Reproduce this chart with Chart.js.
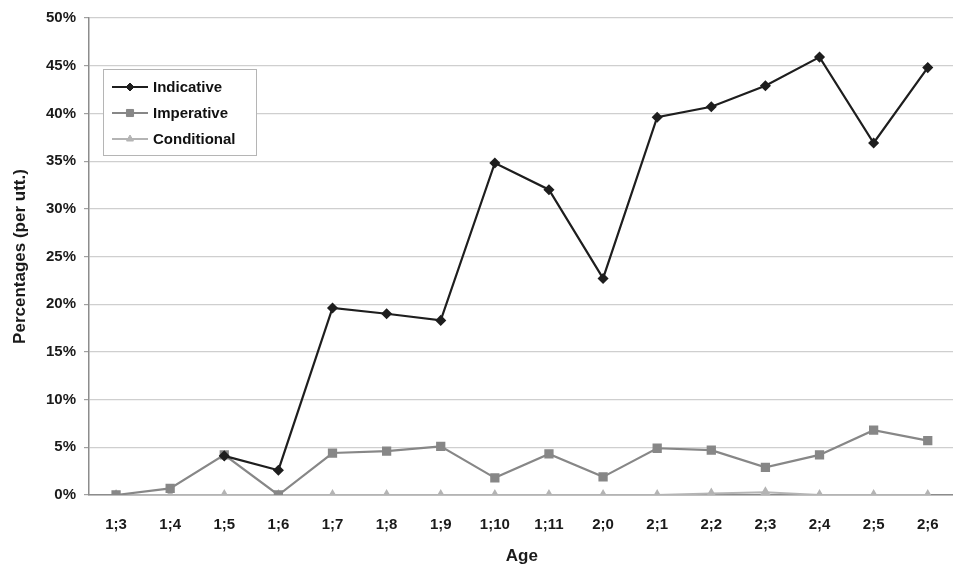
<!DOCTYPE html>
<html>
<head>
<meta charset="utf-8">
<script src="https://cdn.jsdelivr.net/npm/chart.js@4.4.1/dist/chart.umd.min.js"></script>
<style>
  html, body { margin: 0; padding: 0; background: #fff; overflow: hidden; }
  /* the plot runs past the right edge of the picture, as in the reference */
  #wrap { width: 962px; height: 569px; position: relative; }
</style>
</head>
<body>
<div id="wrap"><canvas id="chart"></canvas></div>
<script>
const ages = ['1;3', '1;4', '1;5', '1;6', '1;7', '1;8', '1;9', '1;10', '1;11', '2;0', '2;1', '2;2', '2;3', '2;4', '2;5', '2;6'];
const indicative = [null, null, 4.1, 2.6, 19.6, 19.0, 18.3, 34.8, 32.0, 22.7, 39.6, 40.7, 42.9, 45.9, 36.9, 44.8];
const imperative = [0, 0.7, 4.2, 0, 4.4, 4.6, 5.1, 1.8, 4.3, 1.9, 4.9, 4.7, 2.9, 4.2, 6.8, 5.7];
const conditional = [0, 0, 0, 0, 0, 0, 0, 0, 0, 0, 0, 0.15, 0.3, 0, 0, 0];
const yTicks = [0, 5, 10, 15, 20, 25, 30, 35, 40, 45, 50];

const fontFamily = '"Liberation Sans", Arial, sans-serif';

// legend drawn inside the plot, box top-left
const insideLegend = {
    id: 'insideLegend',
    afterDraw(chart) {
        const ctx = chart.ctx;
        const x = 103, y = 69, w = 153, h = 86;
        ctx.save();
        ctx.fillStyle = '#fff';
        ctx.strokeStyle = '#b5b5b5';
        ctx.lineWidth = 1;
        ctx.fillRect(x, y, w, h);
        ctx.strokeRect(x + 0.5, y + 0.5, w, h);
        ctx.font = 'bold 15px ' + fontFamily;
        ctx.textBaseline = 'middle';
        chart.data.datasets.forEach((ds, i) => {
            const cy = y + 18 + i * 26;
            ctx.strokeStyle = ds.borderColor;
            ctx.lineWidth = ds.borderWidth;
            ctx.beginPath();
            ctx.moveTo(x + 9, cy);
            ctx.lineTo(x + 45, cy);
            ctx.stroke();
            ctx.fillStyle = ds.pointBackgroundColor;
            ctx.strokeStyle = ds.pointBorderColor;
            ctx.lineWidth = 1;
            Chart.helpers.drawPoint(ctx, {
                pointStyle: ds.pointStyle,
                radius: ds.pointRadius,
                rotation: 0,
                borderWidth: 1
            }, x + 27, cy);
            ctx.fillStyle = '#111';
            ctx.fillText(ds.label, x + 50, cy + 1);
        });
        ctx.restore();
    }
};

const ctx = document.getElementById('chart');
new Chart(ctx, {
    type: 'line',
    data: {
        labels: ages,
        datasets: [
            {
                label: 'Indicative',
                data: indicative,
                borderColor: '#1e1e1e',
                backgroundColor: '#1e1e1e',
                pointBackgroundColor: '#1e1e1e',
                pointBorderColor: '#1e1e1e',
                borderWidth: 2.2,
                pointStyle: 'rectRot',
                pointRadius: 4,
                tension: 0
            },
            {
                label: 'Imperative',
                data: imperative,
                borderColor: '#878787',
                backgroundColor: '#878787',
                pointBackgroundColor: '#878787',
                pointBorderColor: '#878787',
                borderWidth: 2.2,
                pointStyle: 'rect',
                pointRadius: 5,
                tension: 0
            },
            {
                label: 'Conditional',
                data: conditional,
                borderColor: '#b4b4b4',
                backgroundColor: '#b4b4b4',
                pointBackgroundColor: '#b4b4b4',
                pointBorderColor: '#b4b4b4',
                borderWidth: 2,
                pointStyle: 'triangle',
                pointRadius: 4,
                tension: 0
            }
        ]
    },
    options: {
        responsive: true,
        maintainAspectRatio: false,
        animation: false,
        layout: { padding: { top: 18, right: 3, left: 0, bottom: 0 } },
        plugins: { legend: { display: false }, tooltip: { enabled: false } },
        scales: {
            x: {
                offset: true,
                grid: { display: false, drawTicks: false },
                border: { color: '#8c8c8c', width: 1.5 },
                ticks: {
                    color: '#1a1a1a',
                    font: { family: fontFamily, size: 15, weight: 'bold' },
                    padding: 21,
                    maxRotation: 0,
                    autoSkip: false
                },
                title: {
                    display: true,
                    text: 'Age',
                    color: '#1a1a1a',
                    font: { family: fontFamily, size: 17, weight: 'bold' },
                    padding: { top: 0, bottom: 2 }
                },
                afterFit(axis) { axis.height = 74; }
            },
            y: {
                min: 0,
                max: 50,
                afterBuildTicks(axis) { axis.ticks = yTicks.map(v => ({ value: v })); },
                grid: { color: '#cfcfcf', lineWidth: 1.2, tickLength: 5, tickColor: '#a0a0a0' },
                border: { color: '#8c8c8c', width: 1.5 },
                ticks: {
                    color: '#1a1a1a',
                    font: { family: fontFamily, size: 15, weight: 'bold' },
                    padding: 8,
                    callback: v => v + '%'
                },
                title: {
                    display: true,
                    text: 'Percentages (per utt.)',
                    color: '#1a1a1a',
                    font: { family: fontFamily, size: 17, weight: 'bold' },
                    padding: { top: 10, bottom: 0 }
                },
                afterFit(axis) { axis.width = 89; }
            }
        }
    },
    plugins: [insideLegend]
});
</script>
</body>
</html>
